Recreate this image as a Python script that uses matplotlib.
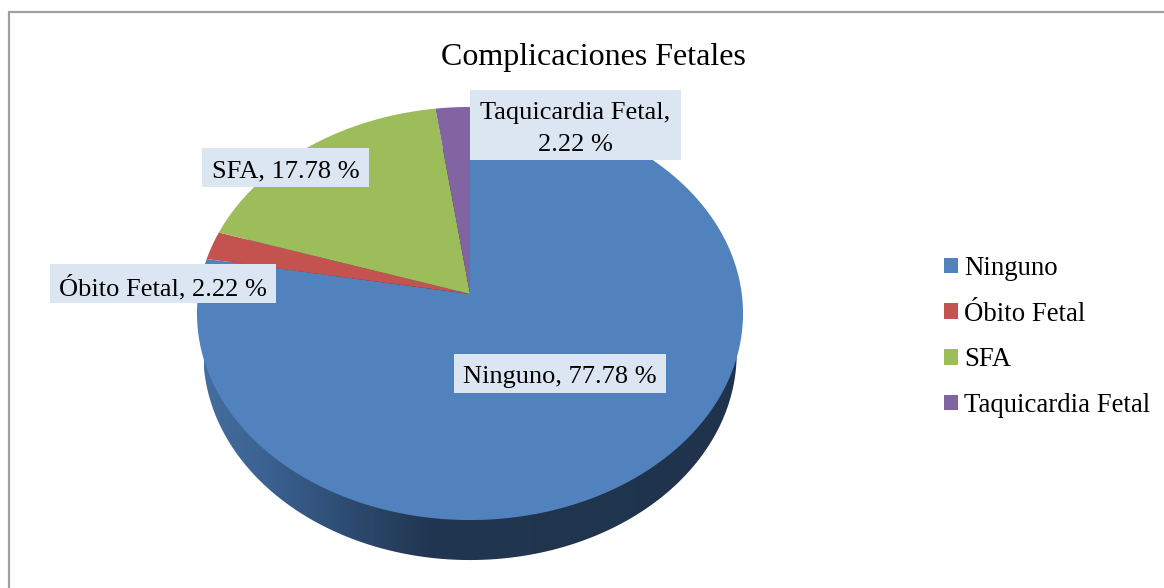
import numpy as np
import matplotlib
matplotlib.use("Agg")
import matplotlib.pyplot as plt
from matplotlib.colors import LinearSegmentedColormap
from matplotlib.patches import Patch, Polygon, Rectangle

plt.rcParams['font.family'] = ['Liberation Serif', 'DejaVu Serif']

# datos
categorias = ['Ninguno', 'Óbito Fetal', 'SFA', 'Taquicardia Fetal']
valores = [77.78, 2.22, 17.78, 2.22]
etiquetas = ['Ninguno, 77.78 %', 'Óbito Fetal, 2.22 %', 'SFA, 17.78 %', 'Taquicardia Fetal,\n2.22 %']
colores = ['#5182BD', '#C4524F', '#9DBD5B', '#8364A3']
titulo = 'Complicaciones Fetales'

# geometria del pastel en pixeles (perspectiva)
CX, CY = 470, 294
A, B, K = 271.8, 204.7, 0.0944


def borde(theta, a=A, cy=CY):
    # punto del borde para un angulo en radianes, 0 arriba y sentido horario
    d = 1 + K * np.cos(theta)
    return CX + a * np.sin(theta) / d, cy - B * np.cos(theta) / d


fig = plt.figure(figsize=(11.64, 5.88), dpi=100)
ax = fig.add_axes([0, 0, 1, 1])
ax.set_axis_off()

# marco
ax.plot([8.5, 8.5, 1170], [600, 12, 12], color='#A0A0A0', lw=1.6, solid_joinstyle='miter')

# lateral con degradado
t = np.linspace(0, 2 * np.pi, 400)
xb, yb = borde(t, a=265.5, cy=334)
lateral = Polygon(np.column_stack([xb, yb]), closed=True, transform=ax.transData, fc='none', ec='none')
ax.add_patch(lateral)
cmap = LinearSegmentedColormap.from_list('lado', [(0, '#446E9F'), (0.12, '#3B6191'), (0.25, '#2E4E75'),
                                                  (0.42, '#213650'), (1, '#1F334C')])
img = ax.imshow(np.linspace(0, 1, 256).reshape(1, -1), cmap=cmap, extent=(204, 740, 570, 140), aspect='auto', zorder=1)
img.set_clip_path(lateral)

# porciones
inicio = 0.0
for valor, color in zip(valores, colores):
    fin = inicio + valor / sum(valores) * 2 * np.pi
    th = np.linspace(inicio, fin, 300)
    xs, ys = borde(th)
    ax.fill(np.r_[CX, xs], np.r_[CY, ys], color=color, lw=0, zorder=2)
    inicio = fin

ax.set_xlim(0, 1164)
ax.set_ylim(588, 0)

# etiquetas: x0, y0, x1, y1 de cada caja
cajas = [(454, 354, 666, 393), (50, 264, 276, 303), (202, 148, 369, 187), (470, 90, 681, 160)]
for texto, (x0, y0, x1, y1) in zip(etiquetas, cajas):
    ax.add_patch(Rectangle((x0, y0), x1 - x0, y1 - y0, fc='#DCE6F2', ec='none', zorder=4))
    ax.text((x0 + x1) / 2, (y0 + y1) / 2 + 4, texto, fontsize=19, color='black', ha='center', va='center',
            multialignment='center', linespacing=1.55, zorder=5)

ax.text(593, 57, titulo, fontsize=23, color='black', ha='center', va='center', zorder=5)

# leyenda
marcas = [Patch(fc=c, ec='none', label=n) for c, n in zip(colores, categorias)]
ax.legend(handles=marcas, loc='center left', bbox_to_anchor=(944 / 1164, 1 - 337 / 588), frameon=False,
          fontsize=19.3, handlelength=0.52, handleheight=0.52, handletextpad=0.22, labelspacing=0.767,
          borderpad=0, borderaxespad=0)

fig.savefig('out.png', dpi=100, facecolor='white')
